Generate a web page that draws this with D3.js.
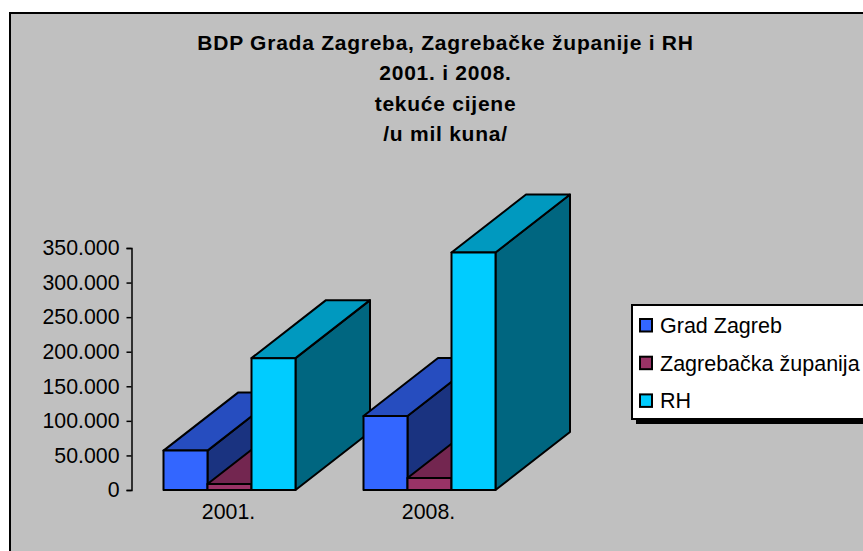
<!DOCTYPE html>
<html><head><meta charset="utf-8">
<script src="https://cdnjs.cloudflare.com/ajax/libs/d3/7.8.5/d3.min.js"></script>
<style>html,body{margin:0;padding:0;background:#fff;overflow:hidden}svg{display:block}text{font-family:"Liberation Sans",Arial,sans-serif;fill:#000}</style>
</head><body><svg id="c" width="863" height="551"></svg>
<script>
const titleLines=["BDP Grada Zagreba, Zagrebačke županije i RH","2001. i 2008.","tekuće cijene","/u mil kuna/"];
const categories=["2001.","2008."];
const seriesNames=["Grad Zagreb","Zagrebačka županija","RH"];
const seriesColors=["#3366FF","#993366","#00CCFF"];
const sideColors=["#1A3380","#4D1A33","#006680"];
const topColors=["#264DBF","#732650","#0099BF"];
const gradZagreb=[57000,107000];
const zagrebackaZupanija=[8700,17400];
const rh=[190700,343500];
const tickValues=[0,50000,100000,150000,200000,250000,300000,350000];
const seriesValues=[gradZagreb,zagrebackaZupanija,rh];

const svg=d3.select("#c");
svg.append("rect").attr("x",10).attr("y",13).attr("width",870).attr("height",560)
  .attr("fill","#C0C0C0").attr("stroke","#000").attr("stroke-width",2);

svg.append("g").selectAll("text").data(titleLines).join("text")
  .attr("x",445.5).attr("y",(d,i)=>50+i*30.3).attr("text-anchor","middle")
  .attr("font-size",21).attr("font-weight","bold").attr("letter-spacing",0.75).text(d=>d);

const y=d3.scaleLinear().domain([0,350000]).range([490,248]);
const x0=d3.scaleBand().domain(categories).range([129.5,529.5]).paddingInner(0.34).paddingOuter(0.17);
const x1=d3.scaleBand().domain(seriesNames).range([0,x0.bandwidth()]);
const depthX=74.5, depthY=-58;

const yAxis=d3.axisLeft(y).tickValues(tickValues).tickSize(5).tickPadding(7)
  .tickFormat(d=>d3.format(",")(d).replace(/,/g,"."));
const gy=svg.append("g").attr("transform","translate(131.5,0)").call(yAxis);
gy.selectAll("path").attr("stroke","#000").attr("stroke-width",1.5);
gy.selectAll("line").attr("stroke","#000").attr("stroke-width",1.5);
gy.selectAll("text").attr("font-size",21.3).style("font-family",'"Liberation Sans"');

const xAxis=d3.axisBottom(x0).tickSize(0).tickPadding(14);
const gx=svg.append("g").attr("transform","translate(-1,490)").call(xAxis);
gx.select(".domain").remove();
gx.selectAll("text").attr("font-size",21.3).style("font-family",'"Liberation Sans"');

const bars=[];
categories.forEach((c,ci)=>seriesNames.forEach((s,si)=>bars.push({c,s,si,v:seriesValues[si][ci]})));
const poly=pts=>pts.map(p=>p.join(",")).join(" ");
const g=svg.append("g").attr("stroke","#000").attr("stroke-width",2).attr("stroke-linejoin","round");
const bar=g.selectAll("g").data(bars).join("g");
bar.append("polygon").attr("fill",d=>sideColors[d.si]).attr("points",d=>{
  const r=x0(d.c)+x1(d.s)+x1.bandwidth();
  return poly([[r,y(0)],[r+depthX,y(0)+depthY],[r+depthX,y(d.v)+depthY],[r,y(d.v)]]);});
bar.append("polygon").attr("fill",d=>topColors[d.si]).attr("points",d=>{
  const l=x0(d.c)+x1(d.s),r=l+x1.bandwidth(),t=y(d.v);
  return poly([[l,t],[r,t],[r+depthX,t+depthY],[l+depthX,t+depthY]]);});
bar.append("rect").attr("fill",d=>seriesColors[d.si])
  .attr("x",d=>x0(d.c)+x1(d.s)).attr("width",x1.bandwidth())
  .attr("y",d=>y(d.v)).attr("height",d=>y(0)-y(d.v));

const lg=svg.append("g");
lg.append("rect").attr("x",636).attr("y",310).attr("width",240).attr("height",114).attr("fill","#000");
lg.append("rect").attr("x",632).attr("y",305).attr("width",240).attr("height",114).attr("fill","#fff").attr("stroke","#000").attr("stroke-width",2);
const it=lg.selectAll("g.i").data(seriesNames).join("g").attr("class","i")
  .attr("transform",(d,i)=>`translate(0,${325.5+i*37.7})`);
it.append("rect").attr("x",640).attr("y",-6.5).attr("width",12).attr("height",12.5)
  .attr("fill",(d,i)=>seriesColors[i]).attr("stroke","#000").attr("stroke-width",2);
it.append("text").attr("x",660).attr("y",7.5).attr("font-size",21.5).text(d=>d);
</script></body></html>
